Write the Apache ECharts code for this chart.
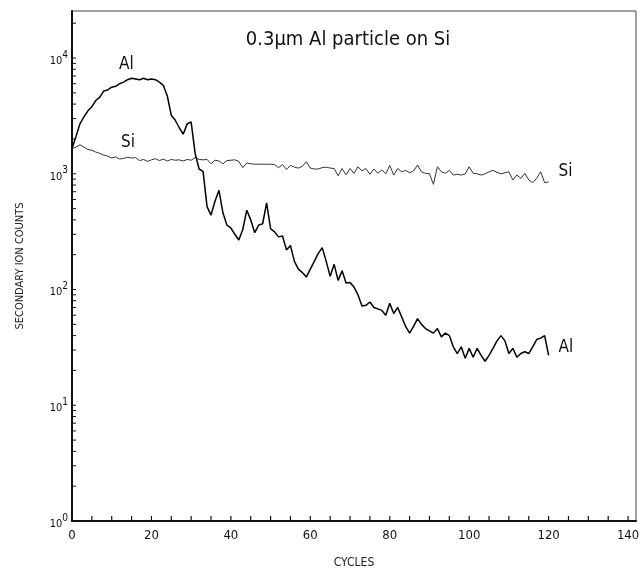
<!DOCTYPE html>
<html>
<head>
<meta charset="utf-8">
<script src="https://cdn.jsdelivr.net/npm/echarts@6/dist/echarts.min.js"></script>
<style>
html,body{margin:0;padding:0;background:#fff;}
#chart{width:642px;height:569px;}
</style>
</head>
<body>
<div id="chart"></div>
<script>
const cycles = Array.from({length: 121}, (_, i) => i);
const alCounts = [
  1650, 2100, 2700, 3100, 3500, 3800, 4300, 4600, 5200, 5300,
  5600, 5700, 6000, 6200, 6500, 6700, 6600, 6500, 6700, 6500,
  6600, 6500, 6200, 5800, 4700, 3200, 2900, 2500, 2200, 2700,
  2800, 1500, 1100, 1050, 520, 440, 580, 720, 460, 360,
  340, 300, 268, 330, 485, 400, 310, 360, 370, 560,
  335, 315, 285, 290, 220, 240, 175, 150, 140, 128,
  150, 175, 205, 230, 175, 130, 165, 120, 145, 114,
  115, 105, 90, 72, 73, 78, 70, 68, 66, 60,
  76, 62, 70, 58, 48, 42, 48, 56, 50, 46,
  44, 42, 46, 39, 42, 40, 32, 28, 32, 25.5,
  31, 26, 31, 27, 24, 27, 31, 36, 40, 36,
  28, 31, 26, 28, 29, 28, 32, 37, 38, 40,
  27
];
const siCounts = [
  1650, 1700, 1780, 1700, 1620, 1600, 1540, 1500, 1450, 1420,
  1370, 1400, 1340, 1360, 1390, 1370, 1380, 1300, 1330, 1280,
  1320, 1350, 1300, 1340, 1290, 1330, 1310, 1320, 1290, 1330,
  1310, 1380, 1330, 1320, 1330, 1220, 1310, 1290, 1220, 1300,
  1310, 1320, 1280, 1130, 1240, 1220, 1210, 1210, 1210, 1210,
  1210, 1200, 1130, 1200, 1090, 1180, 1140, 1120, 1160, 1270,
  1120, 1100, 1100, 1130, 1140, 1120, 1110, 960, 1110, 980,
  1110, 1010, 1150, 1060, 1110, 990, 1100, 1010, 1080, 1000,
  1180, 975, 1110, 1040, 1070, 1020, 1060, 1190, 1040, 1010,
  1000, 810, 1150, 1040, 1010, 1070, 975, 990, 975, 995,
  1150, 1010, 1000, 975, 1000, 1040, 1070, 1030, 1000, 1020,
  1040, 884, 975, 914, 1008, 884, 838, 914, 1042, 838,
  850
];
const xTickLabels = [0, 20, 40, 60, 80, 100, 120, 140];
const xTicks = Array.from({length: 29}, (_, i) => i * 5);
const yTickLabels = [1, 10, 100, 1000, 10000];
const yTicks = [];
for (let d = 1; d <= 10000; d *= 10) {
  for (let m = 1; m <= 9; m++) {
    if (d * m <= 25500) yTicks.push(d * m);
  }
}

const FONT = '"DejaVu Sans Condensed", "Liberation Sans Narrow", sans-serif';
const chart = echarts.init(document.getElementById('chart'));
const pair = (ys) => cycles.map((c, i) => [c, ys[i]]);

chart.setOption({
  animation: false,
  backgroundColor: '#fff',
  title: {
    text: '0.3\u03bcm Al particle on Si',
    left: 343, top: 25, textAlign: 'center',
    textStyle: {fontFamily: FONT, fontSize: 20, fontWeight: 'normal', color: '#111'}
  },
  grid: {left: 72, right: 6, top: 11, bottom: 48, show: true, borderColor: '#444', borderWidth: 1,
         outerBoundsMode: 'none', containLabel: false},
  xAxis: {
    type: 'value', min: 0, max: 142, interval: 20,
    name: 'CYCLES', nameLocation: 'middle', nameGap: 36,
    nameTextStyle: {fontFamily: FONT, fontSize: 12, color: '#222'},
    axisLine: {show: true, onZero: false, lineStyle: {color: '#111', width: 2}},
    axisTick: {show: false},
    axisLabel: {
      fontFamily: FONT, fontSize: 13, color: '#111', margin: 8,
      showMaxLabel: false
    },
    splitLine: {show: false}
  },
  yAxis: {
    type: 'log', logBase: 10, min: 1, max: 25500, interval: 1,
    name: 'SECONDARY ION COUNTS', nameLocation: 'middle', nameGap: 46, nameRotate: 90,
    nameTextStyle: {fontFamily: FONT, fontSize: 11, color: '#222'},
    axisLine: {show: true, onZero: false, lineStyle: {color: '#111', width: 2}},
    axisTick: {show: false},
    axisLabel: {
      margin: 4, showMaxLabel: false,
      formatter: (v) => (yTickLabels.indexOf(Math.round(v)) >= 0 ? '{b|10}{s|' + Math.round(Math.log10(v)) + '}' : ''),
      rich: {
        b: {fontFamily: FONT, fontSize: 11, color: '#111', padding: [6, 0, 0, 0]},
        s: {fontFamily: FONT, fontSize: 10, color: '#111', padding: [0, 0, 6, 0]}
      }
    },
    splitLine: {show: false}
  },
  series: [
    {
      name: 'Si', type: 'line', data: pair(siCounts), showSymbol: false,
      lineStyle: {color: '#333', width: 1}, z: 2,
      endLabel: {show: true, formatter: 'Si', fontFamily: FONT, fontSize: 17, color: '#111', distance: 10, offset: [0, -10]}
    },
    {
      name: 'Al', type: 'line', data: pair(alCounts), showSymbol: false,
      lineStyle: {color: '#000', width: 1.5}, z: 3,
      endLabel: {show: true, formatter: 'Al', fontFamily: FONT, fontSize: 17, color: '#111', distance: 10, offset: [0, -8]}
    },
    {
      name: 'yTicks', type: 'custom', clip: false, silent: true, z: 5,
      data: yTicks.map((v) => [0, v]),
      renderItem: (params, api) => {
        const p = api.coord([0, api.value(1)]);
        return {type: 'line', shape: {x1: p[0], y1: p[1], x2: p[0] + 4, y2: p[1]}, style: {stroke: '#111', lineWidth: 1}};
      }
    },
    {
      name: 'xTicks', type: 'custom', clip: false, silent: true, z: 5,
      data: xTicks.map((v) => [v, 100]),
      renderItem: (params, api) => {
        const p = api.coord([api.value(0), api.value(1)]);
        const y0 = params.coordSys.y + params.coordSys.height;
        return {type: 'line', shape: {x1: p[0], y1: y0, x2: p[0], y2: y0 - 5}, style: {stroke: '#111', lineWidth: 1.2}};
      }
    }
  ],
  graphic: [
    {type: 'text', left: 119, top: 56, style: {text: 'Al', font: '17px ' + FONT, fill: '#111'}},
    {type: 'text', left: 121, top: 134, style: {text: 'Si', font: '17px ' + FONT, fill: '#111'}}
  ]
});
</script>
</body>
</html>
